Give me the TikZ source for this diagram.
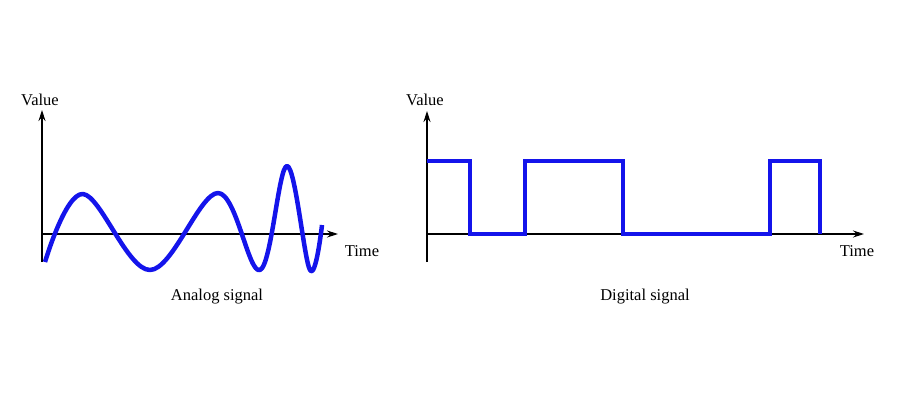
\documentclass[tikz,border=0pt]{standalone}
\usepackage{fontspec}
\setmainfont{Liberation Serif}
\usetikzlibrary{arrows.meta}
\begin{document}
\begin{tikzpicture}[x=1pt,y=-1pt,
  ax/.style={line width=1.2pt,-{Stealth[length=11pt,width=7pt]}},
  sig/.style={line width=4.5pt,color=sigblue,line join=miter},
  lbl/.style={font=\fontsize{16.5}{18}\selectfont,inner sep=0pt}]
\definecolor{sigblue}{RGB}{20,20,235}
\useasboundingbox (0,0) rectangle (900,400);
\coordinate (lo) at (42,234);
\coordinate (lt) at (42,110);
\coordinate (lb) at (42,262);
\coordinate (lr) at (338,234);
\draw[line width=1.2pt] (lb) -- (lo);
\draw[ax] (lo) -- (lt);
\draw[ax] (lo) -- (lr);
\node[lbl] (lv) at (40,100) {Value};
\node[lbl] (lti) at (362,251) {Time};
\node[lbl] (la) at (217,297) {Analog signal};
\draw[sig,line join=round] plot[smooth,tension=0.6] coordinates {(45,262) (83,194) (150,270) (218,193) (260,270) (287,166) (310,270) (322,225)};
\coordinate (ro) at (427,234);
\coordinate (rt) at (427,111);
\coordinate (rb) at (427,262);
\coordinate (rr) at (864,234);
\draw[line width=1.2pt] (rb) -- (ro);
\draw[ax] (ro) -- (rt);
\draw[ax] (ro) -- (rr);
\node[lbl] (rv) at (425,100) {Value};
\node[lbl] (rti) at (857,251) {Time};
\node[lbl] (da) at (645,297) {Digital signal};
\draw[sig] (427,161) -- (470,161) -- (470,234) -- (525,234) -- (525,161) -- (623,161) -- (623,234) -- (770,234) -- (770,161) -- (820,161) -- (820,234);
\end{tikzpicture}
\end{document}
